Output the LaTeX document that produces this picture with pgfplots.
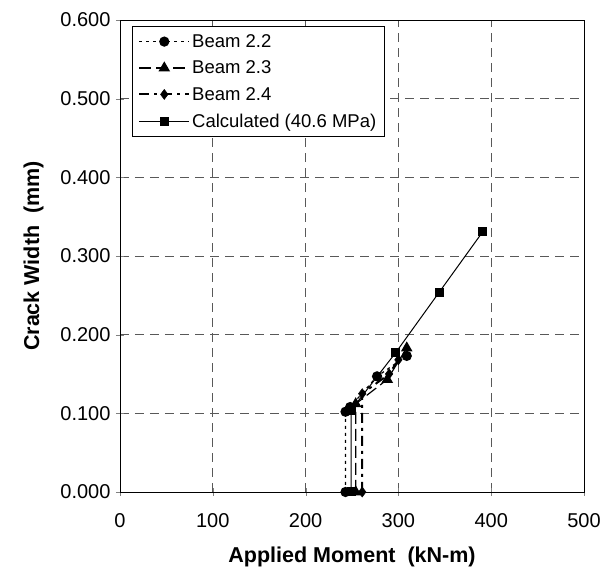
\documentclass[border=0pt]{standalone}
\usepackage{pgfplots}
\pgfplotsset{compat=1.18}
\usepackage{fontspec}
\setmainfont{Liberation Sans}
\begin{document}
\begin{tikzpicture}
\begin{axis}[
  scale only axis,
  width=464pt, height=472pt,
  xmin=0, xmax=500, ymin=0, ymax=0.6,
  xtick={0,100,...,500},
  ytick={0,0.1,0.2,0.3,0.4,0.5,0.6},
  /pgf/number format/assume math mode=true,
  tick label style={font=\fontsize{20}{22}\selectfont},
  yticklabel style={/pgf/number format/fixed, /pgf/number format/fixed zerofill, /pgf/number format/precision=3, xshift=-2pt},
  xticklabel style={yshift=-14pt},
  scaled y ticks=false,
  tick align=center,
  major tick length=8pt,
  xtick pos=left, ytick pos=left,
  axis line style={black, line width=0.9pt},
  grid=major,
  major grid style={gray!70!black, dash pattern=on 9pt off 6pt, line width=0.8pt},
  xlabel={\bfseries Applied Moment\ \ (kN-m)},
  ylabel={\bfseries Crack Width\ \ (mm)},
  label style={font=\fontsize{21.5}{24}\selectfont},
  xlabel style={yshift=-12pt},
  ylabel style={yshift=10pt},
  legend style={at={(rel axis cs:0,1)}, anchor=north west, xshift=12pt, yshift=-6pt,
    draw=black, line width=0.8pt, font=\fontsize{18.5}{21}\selectfont, row sep=8pt,
    inner xsep=6pt, inner ysep=6pt, cells={anchor=west}},
  legend image code/.code={
    \draw[#1] (0cm,0cm) -- (1.75cm,0cm);
    \draw[#1, solid] plot coordinates {(0.875cm,0cm)};
  },
  clip=false,
]
\addplot[black, line width=1.2pt, dash pattern=on 3pt off 4pt, mark=*, mark size=4.5pt, mark options={solid}]
  coordinates {(243,0) (243,0.102) (248,0.108) (277,0.147) (309,0.173)};
\addlegendentry{Beam 2.2}
\addplot[black, line width=1.2pt, dash pattern=on 12pt off 5pt, mark=triangle*, mark size=5.5pt, mark options={solid}]
  coordinates {(254,0) (254,0.112) (288,0.143) (309,0.183)};
\addlegendentry{Beam 2.3}
\addplot[black, line width=2pt, dash pattern=on 10pt off 5pt on 3pt off 5pt, mark=diamond*, mark size=5pt, mark options={solid, line width=0.5pt}]
  coordinates {(261,0) (261,0.125) (290,0.150) (300,0.168)};
\addlegendentry{Beam 2.4}
\addplot[black, line width=1pt, mark=square*, mark size=4pt, mark options={solid}]
  coordinates {(249,0) (249,0.104) (297,0.177) (344,0.254) (391,0.331)};
\addlegendentry{Calculated (40.6 MPa)}
\end{axis}
\pgfresetboundingbox
\path[use as bounding box] ([shift={(-120pt,-88pt)}]current axis.south west) rectangle ([shift={(20pt,20pt)}]current axis.north east);
\end{tikzpicture}
\end{document}
